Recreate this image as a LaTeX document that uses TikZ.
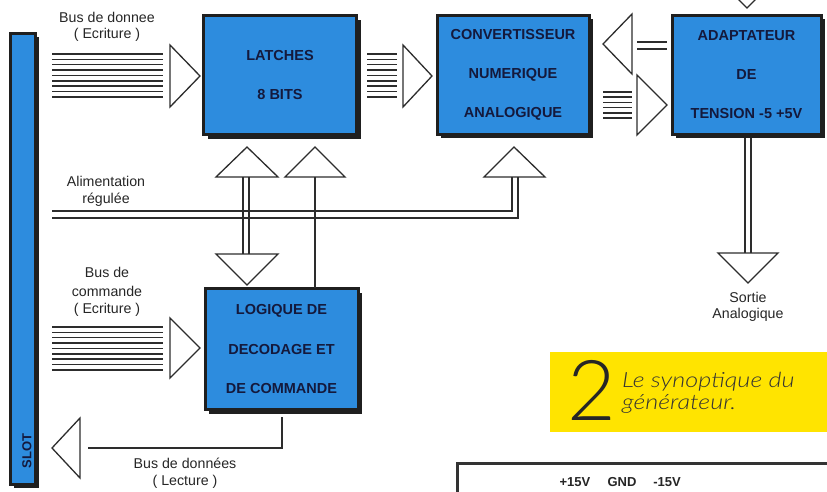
\documentclass[tikz,border=0pt]{standalone}
\usepackage{fontspec}
\setmainfont{Liberation Sans}
\newfontfamily\capfont{Lato Light}
\newfontfamily\capwidefont{Lato Light}[FakeStretch=1.2]
\usetikzlibrary{shadows}
\definecolor{boxblue}{RGB}{45,140,222}
\definecolor{boxtext}{RGB}{20,25,60}
\definecolor{wire}{RGB}{45,45,45}
\definecolor{capyellow}{RGB}{255,228,0}
\begin{document}
\begin{tikzpicture}[x=1pt,y=-1pt,
  blockbox/.style={draw=black!88, line width=3pt, fill=boxblue, inner sep=0pt, align=center,
    text=boxtext, font=\bfseries\fontsize{14.5}{39}\selectfont,
    drop shadow={shadow xshift=4pt, shadow yshift=-4pt, fill=black!88, opacity=1}},
  tri/.style={draw=wire, line width=1.3pt, line join=miter},
  busline/.style={draw=wire, line width=1.5pt},
  wireline/.style={draw=wire, line width=1.3pt},
  lbl/.style={font=\fontsize{14.2}{14}\selectfont, text=black!85, inner sep=0pt},
  pinlbl/.style={font=\bfseries\fontsize{13}{13}\selectfont, text=black!85, anchor=base, inner sep=0pt}]
\clip (0,0) rectangle (827,491);
\fill[white] (0,0) rectangle (827,491);

% SLOT bar
\node[blockbox, minimum width=25pt, minimum height=451pt] (slot) at (22.5,258.5) {};
\node[rotate=90, font=\bfseries\fontsize{13}{13}\selectfont, text=boxtext, inner sep=0pt] (slotlbl) at (27,451) {SLOT};

% boxes
\node[blockbox, minimum width=153pt, minimum height=119pt] (latches) at (280,75) {LATCHES\\8 BITS};
\node[blockbox, minimum width=152pt, minimum height=119pt] (cna) at (513,74.5) {CONVERTISSEUR\\NUMERIQUE\\ANALOGIQUE};
\node[blockbox, minimum width=149pt, minimum height=119pt] (adapt) at (746.5,74.5) {ADAPTATEUR\\DE\\TENSION -5 +5V};
\node[blockbox, minimum width=153pt, minimum height=121pt] (logic) at (281.5,349) {LOGIQUE DE\\DECODAGE ET\\DE COMMANDE};

% data bus (write) into latches
\foreach \k in {0,...,8} \draw[busline] (52,{54+5.35*\k}) -- (163,{54+5.35*\k});
\draw[tri] (170,45) -- (200,76) -- (170,107) -- cycle;
\node[lbl] (busdon) at (107,17) {Bus de donnee};
\node[lbl] (ecr1) at (107,35) {( Ecriture )};

% latches -> CNA
\foreach \k in {0,...,8} \draw[busline] (367,{54+5.35*\k}) -- (397,{54+5.35*\k});
\draw[tri] (403,45) -- (432,76) -- (403,107) -- cycle;

% adapt -> CNA (feedback)
\draw[wireline] (637,42) -- (667,42);
\draw[wireline] (637,49) -- (667,49);
\draw[tri] (632,14) -- (603,44) -- (632,74) -- cycle;

% CNA -> adapt
\foreach \k in {0,...,5} \draw[busline] (603,{92+5.2*\k}) -- (632,{92+5.2*\k});
\draw[tri] (637,75) -- (667,105) -- (637,135) -- cycle;

% top input into adapt
\draw[tri] (717,-22) -- (747,8) -- (777,-22) -- cycle;

% adapt -> sortie
\draw[wireline] (745,138) -- (745,253);
\draw[wireline] (751,138) -- (751,253);
\draw[tri] (718,253) -- (778,253) -- (748,283) -- cycle;
\node[lbl] (sortie) at (748,297) {Sortie};
\node[lbl] (analog) at (748,315) {Analogique};

% triangles under latches and CNA
\draw[tri] (216,177) -- (278,177) -- (247,147) -- cycle;
\draw[tri] (285,177) -- (345,177) -- (315,147) -- cycle;
\draw[tri] (484,177) -- (545,177) -- (514,147) -- cycle;

% alimentation regulee
\draw[wireline] (52,211) -- (512,211) -- (512,177);
\draw[wireline] (52,218) -- (518,218) -- (518,177);
\node[lbl] (alim) at (106,181) {Alimentation};
\node[lbl] (regul) at (106,200) {régulée};

% latches <-> logic
\draw[wireline] (243,177) -- (243,254);
\draw[wireline] (249,177) -- (249,254);
\draw[tri] (216,254) -- (278,254) -- (247,285) -- cycle;
\draw[wireline] (315,177) -- (315,288);

% command bus into logic
\foreach \k in {0,...,8} \draw[busline] (52,{327+5.35*\k}) -- (163,{327+5.35*\k});
\draw[tri] (170,318) -- (200,348) -- (170,378) -- cycle;
\node[lbl] (busc) at (107,272) {Bus de};
\node[lbl] (comm) at (107,291) {commande};
\node[lbl] (ecr2) at (107,310) {( Ecriture )};

% data bus (read)
\draw[wireline] (282,417) -- (282,448) -- (88,448);
\draw[tri] (80,418) -- (52,448) -- (80,478) -- cycle;
\node[lbl] (busl) at (185,463) {Bus de données};
\node[lbl] (lect) at (185,482) {( Lecture )};

% caption
\fill[capyellow] (550,352) rectangle (830,432);
\node[font=\capfont\fontsize{84}{84}\selectfont, text=black!85, inner sep=0pt] (num) at (592,390) {2};
\node[font=\capwidefont\itshape\fontsize{21}{21}\selectfont, text=black!80, anchor=base west, inner sep=0pt] (cap1) at (622,387) {Le synoptique du};
\node[font=\capwidefont\itshape\fontsize{21}{21}\selectfont, text=black!80, anchor=base west, inner sep=0pt] (cap2) at (622,409) {générateur.};

% bottom right box
\draw[line width=3pt, draw=black!80] (457,500) -- (457,463) -- (835,463);
\node[pinlbl] (p15) at (575,486) {+15V};
\node[pinlbl] (gnd) at (622,486) {GND};
\node[pinlbl] (m15) at (667,486) {-15V};
\end{tikzpicture}
\end{document}
